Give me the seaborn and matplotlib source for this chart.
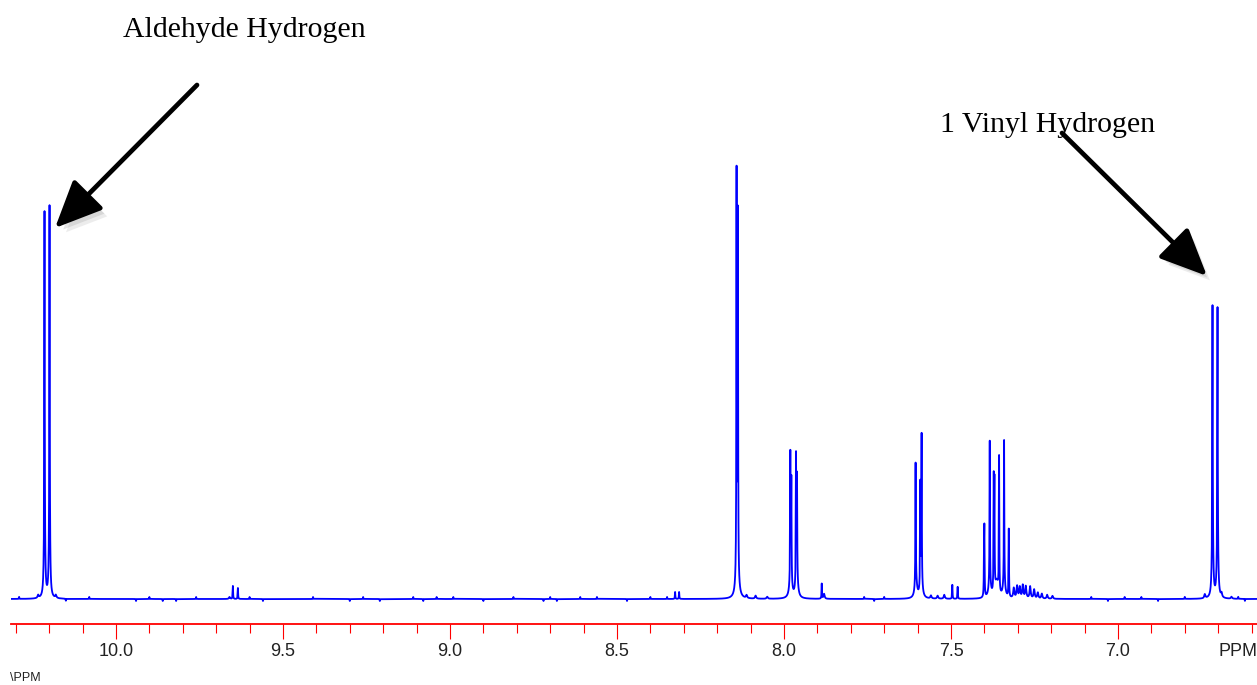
import numpy as np
import pandas as pd
import matplotlib
matplotlib.use("Agg")
import matplotlib.pyplot as plt
import matplotlib.patheffects as pe
from matplotlib.patches import FancyArrowPatch
import seaborn as sns

# ---- peak list (ppm, sharp-line height in px) ----
spike_ppm = [10.214, 10.199, 9.650, 9.635, 8.326, 8.314, 8.142, 8.138,
             7.981, 7.978, 7.964, 7.961, 7.887, 7.606, 7.592, 7.588,
             7.496, 7.480, 7.401, 7.400, 7.384, 7.372, 7.370, 7.356,
             7.341, 7.327, 6.717, 6.702]
spike_height = [336, 340, 13, 11, 7, 7, 394, 353,
                124, 100, 125, 101, 15, 120, 103, 147,
                14, 12, 45, 58, 142, 109, 104, 135,
                143, 68, 232, 230]

# broader bases under the sharp lines
base_ppm = [10.214, 10.199, 8.140, 7.980, 7.962, 7.605, 7.589,
            7.384, 7.363, 7.341, 6.717, 6.702]
base_height = [50, 52, 36, 20, 20, 16, 16, 14, 16, 14, 60, 60]
base_width = [0.0022, 0.0022, 0.004, 0.004, 0.004, 0.004, 0.004,
              0.004, 0.006, 0.004, 0.0022, 0.0022]

# small humps in the aromatic tail and around the big lines
minor_ppm = [7.312, 7.302, 7.294, 7.285, 7.276, 7.263, 7.251, 7.240,
             7.228, 7.212, 7.196, 8.112, 8.085, 8.050, 7.560, 7.540,
             10.233, 10.180, 9.660, 7.880, 7.520, 6.740, 6.690, 6.660]
minor_height = [10, 12, 11, 13, 12, 12, 9, 6, 5, 4, 3, 3, 3, 2, 3, 3,
                3, 3, 2, 5, 4, 4, 4, 2]
minor_width = [0.002] * 24

# scattered baseline blips
blip_ppm = [10.290, 10.150, 10.080, 9.940, 9.900, 9.860, 9.820, 9.760,
            9.600, 9.560, 9.410, 9.300, 9.260, 9.210, 9.110, 9.080,
            9.040, 8.990, 8.900, 8.810, 8.720, 8.700, 8.680, 8.610,
            8.560, 8.470, 8.400, 8.350, 7.760, 7.730, 7.700, 7.080,
            7.030, 6.980, 6.930, 6.880, 6.800, 6.640, 6.620]
blip_height = [2, -2, 2, -2, 2, -2, -2, 2, 2, -2, 2, -2, 2, -2, 2, -2,
               2, 2, -2, 2, -2, 2, -2, 2, 2, -2, 2, 2, 2, -2, 2, 2,
               -2, 2, 2, -2, 2, 2, -2]

spike_width = 0.0007
blip_width = 0.0006

ppm = np.arange(6.575, 10.325, 0.0001)


def lorentz(x, c, h, w):
    return h / (1.0 + ((x - c) / w) ** 2)


intensity = np.zeros_like(ppm)
for c, h in zip(spike_ppm, spike_height):
    intensity += lorentz(ppm, c, h, spike_width)
for c, h, w in zip(base_ppm, base_height, base_width):
    intensity += lorentz(ppm, c, h, w)
for c, h, w in zip(minor_ppm, minor_height, minor_width):
    intensity += lorentz(ppm, c, h, w)
for c, h in zip(blip_ppm, blip_height):
    intensity += lorentz(ppm, c, h, blip_width)

df = pd.DataFrame({"ppm": ppm, "intensity": intensity})

# ---- figure ----
W, H = 1257, 685
sns.set_style("white")
fig = plt.figure(figsize=(W / 100, H / 100), dpi=100)

axis_y = 624      # red axis line, px from top
base_y = 599      # spectrum baseline, px from top
left_px = 11
ax = fig.add_axes([left_px / W, (H - axis_y) / H, (W - left_px) / W, axis_y / H])

sns.lineplot(data=df, x="ppm", y="intensity", ax=ax, color="#0000ff",
             linewidth=1.3, estimator=None, sort=False)

ppm_left = 10.0 + (116 - left_px) / 334.0
ppm_right = 10.0 - (W - 116) / 334.0
ax.set_xlim(ppm_left, ppm_right)
ax.set_ylim(-(axis_y - base_y), base_y)

for s in ["top", "left", "right"]:
    ax.spines[s].set_visible(False)
ax.spines["bottom"].set_color("#ff0000")
ax.spines["bottom"].set_linewidth(1.3)

narrow = ["Liberation Sans Narrow", "Liberation Sans"]
major = [10.0, 9.5, 9.0, 8.5, 8.0, 7.5, 7.0]
minor = np.round(np.arange(6.6, 10.35, 0.1), 1)
ax.set_xticks(major)
ax.set_xticklabels([f"{v:.1f}" for v in major])
ax.set_xticks(minor, minor=True)
ax.set_yticks([])
ax.tick_params(axis="x", which="major", direction="out", length=11,
               width=0.8, color="#ff0000", pad=3, labelsize=13,
               labelcolor="#222222", bottom=True)
ax.tick_params(axis="x", which="minor", direction="out", length=6.5,
               width=0.8, color="#ff0000", bottom=True)
for lbl in ax.get_xticklabels():
    lbl.set_family(narrow)
ax.set_xlabel("")
ax.set_ylabel("")

fig.text(1238 / W, 1 - 651 / H, "PPM", ha="center", va="center",
         fontsize=13, color="#222222", family=narrow)
# small label at the bottom-left corner of the screenshot
fig.text(10 / W, 1 - 684 / H, "\\PPM", ha="left", va="bottom",
         fontsize=9, color="#222222", family=narrow)

# ---- annotations ----
serif = ["Liberation Serif", "DejaVu Serif"]
fig.text(123 / W, 1 - 37 / H, "Aldehyde Hydrogen", ha="left", va="baseline",
         fontsize=21.5, family=serif, color="black")
fig.text(940 / W, 1 - 132 / H, "1 Vinyl Hydrogen", ha="left", va="baseline",
         fontsize=21.5, family=serif, color="black")


def px(x, y):
    return (x / W, 1 - y / H)


shadow = [pe.SimplePatchShadow(offset=(5, -6), shadow_rgbFace="0.6", alpha=0.18),
          pe.SimplePatchShadow(offset=(3, -4), shadow_rgbFace="0.6", alpha=0.25),
          pe.Normal()]
for tail, tip in [((197, 85), (55, 228)), ((1062, 133), (1207, 276))]:
    arr = FancyArrowPatch(px(*tail), px(*tip), transform=fig.transFigure,
                          arrowstyle="-|>,head_length=1.45,head_width=0.65",
                          mutation_scale=20, linewidth=3.4, color="black",
                          shrinkA=0, shrinkB=0)
    arr.set_path_effects(shadow)
    fig.add_artist(arr)

fig.savefig("out.png", dpi=100)
